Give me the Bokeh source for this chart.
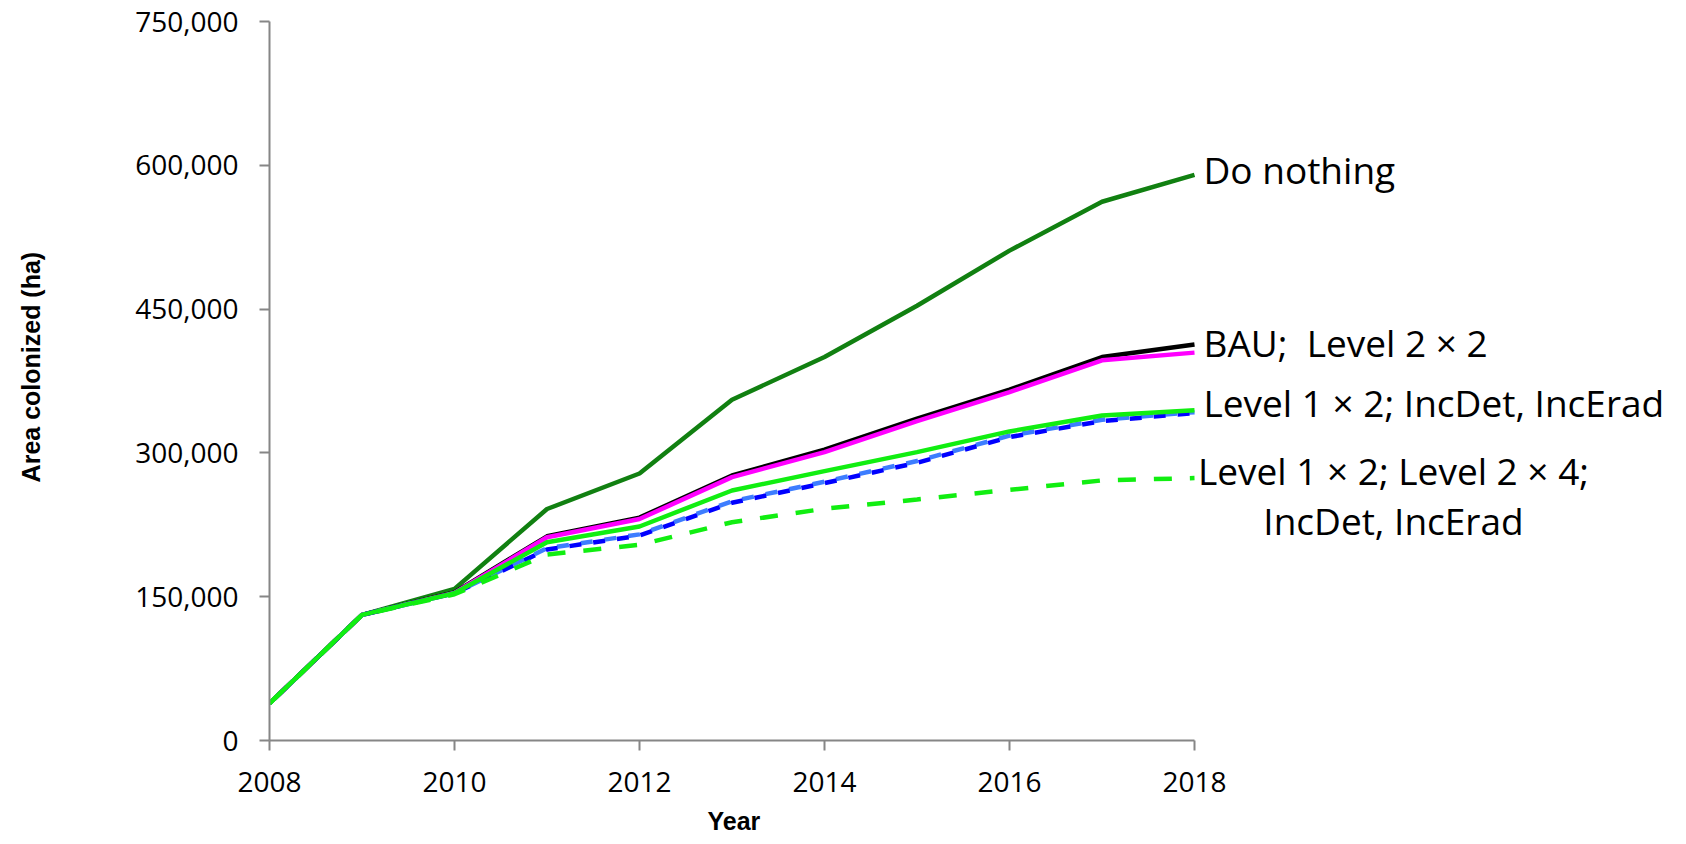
from bokeh.plotting import figure
from bokeh.models import Range1d, FixedTicker, NumeralTickFormatter, Label, Title
from bokeh.embed import file_html
from bokeh.resources import INLINE

years = [2008, 2009, 2010, 2011, 2012, 2013, 2014, 2015, 2016, 2017, 2018]
do_nothing = [38700, 131000, 158200, 241500, 278500, 355500, 400000, 453500, 511000, 562000, 590000]
bau = [38700, 131000, 154500, 213000, 232500, 276500, 303300, 335700, 366000, 400000, 413000]
level2x2 = [38700, 131000, 154000, 212000, 231000, 274700, 300800, 333200, 363400, 396600, 404600]
level1x2_inc = [38700, 131000, 153600, 206800, 223200, 260800, 281000, 300800, 322400, 339100, 344400]
blue_dashed = [38700, 131000, 153600, 199200, 213800, 248000, 268500, 289700, 316500, 333200, 341500]
lightblue_dashed = [38700, 131000, 153600, 200500, 215000, 249500, 270000, 291500, 318000, 334500, 342500]
level1x2_level2x4 = [38700, 131000, 152500, 194000, 204100, 227700, 241700, 251400, 261500, 271300, 273700]

y_ticks = [0, 150000, 300000, 450000, 600000, 750000]
x_ticks = [2008, 2010, 2012, 2014, 2016, 2018]

label_texts = ["Do nothing", "BAU;\u00a0 Level 2 \u00d7 2", "Level 1 \u00d7 2; IncDet, IncErad"]
label_y = [596000, 415000, 352600]
multi_lines = ["Level 1 \u00d7 2; Level 2 \u00d7 4;", "IncDet, IncErad"]
multi_y = [281700, 229500]

W, H = 1680, 844
left, top, bottom = 269, 21, 104
px_per_year = 92.5
x_end = years[0] + (W - left) / px_per_year

p = figure(width=W, height=H, output_backend="svg", toolbar_location=None,
           x_range=Range1d(years[0], x_end), y_range=Range1d(0, 750000),
           min_border_left=left, min_border_right=0, min_border_top=top, min_border_bottom=bottom)
p.outline_line_color = None
p.xgrid.visible = False
p.ygrid.visible = False
p.background_fill_color = "white"

axis_gray = "#868686"
for ax in (p.xaxis[0], p.yaxis[0]):
    ax.axis_line_color = axis_gray
    ax.axis_line_width = 2
    ax.major_tick_line_color = axis_gray
    ax.major_tick_line_width = 2
    ax.major_tick_out = 10
    ax.major_tick_in = 0
    ax.minor_tick_line_color = None
    ax.major_label_text_font = "Open Sans"
    ax.major_label_text_font_size = "28px"
    ax.major_label_text_color = "black"
    ax.axis_label_text_font = "Liberation Sans"
    ax.axis_label_text_font_style = "bold"
    ax.axis_label_text_font_size = "25px"
    ax.axis_label_text_color = "black"

p.xaxis.bounds = (years[0], years[-1])
p.xaxis.ticker = FixedTicker(ticks=x_ticks)
p.yaxis.ticker = FixedTicker(ticks=y_ticks)
p.yaxis.formatter = NumeralTickFormatter(format="0,0")
p.yaxis.axis_label = "\u00a0\u00a0\u00a0\u00a0Area colonized (ha)"
p.xaxis.major_label_standoff = 21
p.yaxis.major_label_standoff = 21
p.yaxis.axis_label_standoff = 87

p.add_layout(Title(text="Year", align="left", offset=438, standoff=20,
                   text_font="Liberation Sans", text_font_style="bold",
                   text_font_size="25px", text_color="black"), "below")

lw = 4.5
p.line(years, do_nothing, line_color="#118011", line_width=lw)
p.line(years, bau, line_color="black", line_width=lw)
p.line(years, level2x2, line_color="#ff00ff", line_width=lw)
p.line(years, lightblue_dashed, line_color="#3d7dff", line_width=lw, line_dash="12 12")
p.line(years, blue_dashed, line_color="#0000ff", line_width=lw, line_dash="12 12", line_dash_offset=12)
p.line(years, level1x2_level2x4, line_color="#11ee11", line_width=lw, line_dash="18 18")
p.line(years, level1x2_inc, line_color="#11ee11", line_width=lw)

for t, yv in zip(label_texts, label_y):
    p.add_layout(Label(x=years[-1], y=yv, text=t, x_offset=9, text_baseline="middle",
                       text_align="left", text_font="Open Sans", text_font_size="37px",
                       text_color="black"))
for t, yv in zip(multi_lines, multi_y):
    p.add_layout(Label(x=years[-1], y=yv, text=t, x_offset=199, text_baseline="middle",
                       text_align="center", text_font="Open Sans", text_font_size="37px",
                       text_color="black"))

open("out.html", "w").write(file_html(p, INLINE))
